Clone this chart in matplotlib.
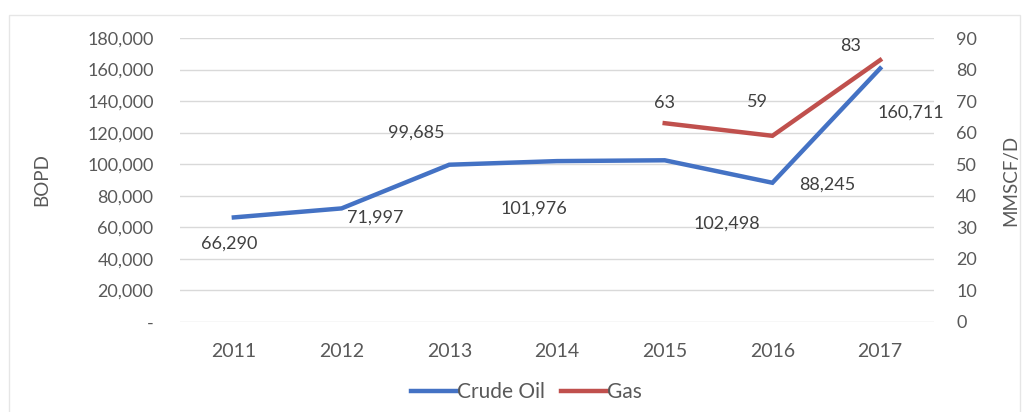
import matplotlib.pyplot as plt
from matplotlib.patches import Rectangle
from matplotlib.lines import Line2D

plt.rcParams['font.family'] = ['Lato', 'DejaVu Sans']

years = ['2011', '2012', '2013', '2014', '2015', '2016', '2017']
crude_oil = [66290, 71997, 99685, 101976, 102498, 88245, 160711]
gas_years = ['2015', '2016', '2017']
gas = [63, 59, 83]

# label offsets in pixels from their points (as placed in the original chart)
oil_offsets = [(-5, -26), (34, -9), (-33, 32), (-23, -48), (62, -63), (55, -2), (31, -44)]
gas_offsets = [(0, 20), (-15, 34), (-30, 14)]

blue = '#4472C4'
red = '#C0504D'
grey = '#595959'

fig = plt.figure(figsize=(10.26, 4.12), dpi=100)
ax = fig.add_axes([180 / 1026, 1 - 322 / 412, 754 / 1026, 284 / 412])
ax2 = ax.twinx()

x = list(range(len(years)))
ax.plot(x, crude_oil, color=blue, lw=3.2, solid_joinstyle='miter')
gx = [years.index(y) for y in gas_years]
ax2.plot(gx, gas, color=red, lw=3.2, solid_joinstyle='miter')

ax.set_ylim(0, 180000)
ax2.set_ylim(0, 90)
ax.set_xlim(-0.5, 6.5)
ax.set_yticks(range(0, 180001, 20000))
ax.set_yticklabels(['-'] + ['{:,}'.format(v) for v in range(20000, 180001, 20000)])
ax2.set_yticks(range(0, 91, 10))
ax.set_xticks(x)
ax.set_xticklabels(years)

ax.grid(axis='y', color='#D9D9D9', lw=1)
ax.set_axisbelow(True)
for a in (ax, ax2):
    for s in a.spines.values():
        s.set_visible(False)
    a.tick_params(length=0, labelsize=13, labelcolor=grey)
ax.tick_params(axis='y', pad=19)
ax.tick_params(axis='x', pad=15, labelsize=14)
ax2.tick_params(axis='y', pad=16)

ax.set_ylabel('BOPD', fontsize=13.5, color=grey)
ax2.set_ylabel('MMSCF/D', fontsize=13.5, color=grey)
ax.yaxis.set_label_coords(-0.172, 0.5)
ax2.yaxis.set_label_coords(1.090, 0.5)

for i, v in enumerate(crude_oil):
    ax.annotate('{:,}'.format(v), (i, v), xytext=oil_offsets[i], textcoords='offset pixels',
                ha='center', va='center', fontsize=13, color='#404040')
for i, v in enumerate(gas):
    ax2.annotate(str(v), (gx[i], v), xytext=gas_offsets[i], textcoords='offset pixels',
                 ha='center', va='center', fontsize=13, color='#404040')

handles = [Line2D([], [], color=blue, lw=3.2), Line2D([], [], color=red, lw=3.2)]
fig.legend(handles, ['Crude Oil', 'Gas'], loc='center', bbox_to_anchor=(0.513, 0.0485),
           ncol=2, frameon=False, fontsize=15, labelcolor=grey,
           handlelength=2.2, handletextpad=0.0, columnspacing=0.8)

fig.patches.append(Rectangle((0.009, -0.01), 0.985, 0.974, transform=fig.transFigure,
                             fill=False, edgecolor='#E6E6E6', lw=1))

fig.savefig('out.png', dpi=100)
